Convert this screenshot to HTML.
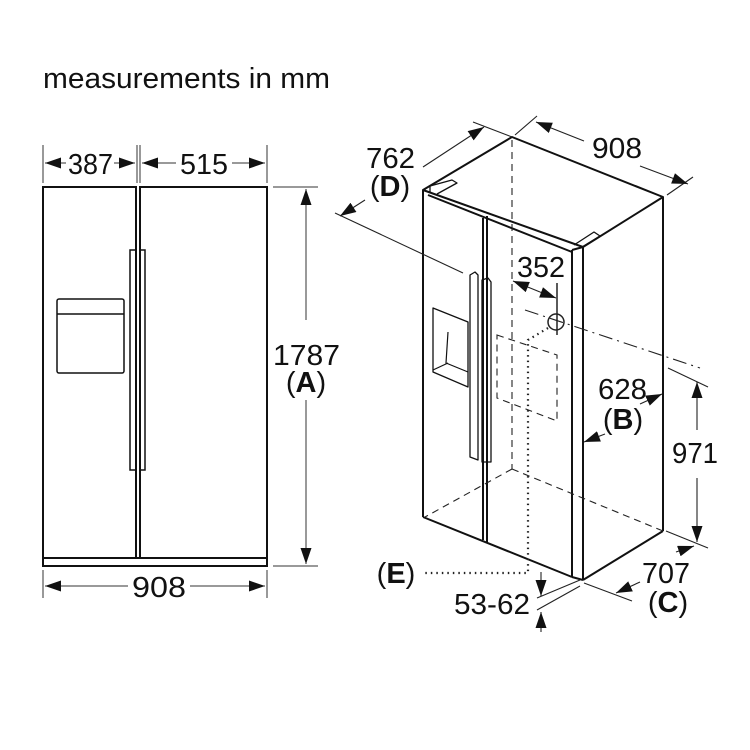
<!DOCTYPE html>
<html><head><meta charset="utf-8"><style>
html,body{margin:0;padding:0;background:#fff}
svg{display:block}
text{font-family:"Liberation Sans",sans-serif;fill:#111}
</style></head><body>
<svg width="750" height="750" viewBox="0 0 750 750" xmlns="http://www.w3.org/2000/svg">
<defs>
<marker id="a" viewBox="0 0 10 10" refX="10" refY="5" markerWidth="16" markerHeight="11" orient="auto-start-reverse" markerUnits="userSpaceOnUse" preserveAspectRatio="none"><path d="M0,0L10,5L0,10z" fill="#111"/></marker>
</defs>
<text x="43" y="88" font-size="29" textLength="287" lengthAdjust="spacingAndGlyphs">measurements in mm</text>

<g stroke="#111" fill="none" stroke-width="2">
<rect x="43" y="187" width="93" height="371"/>
<rect x="140" y="187" width="127" height="371"/>
<rect x="43" y="558" width="224" height="8"/>
<rect x="130" y="250" width="6" height="220" stroke-width="1.5"/>
<rect x="140" y="250" width="5" height="220" stroke-width="1.5"/>
<rect x="57" y="299" width="67" height="74" rx="2" stroke-width="1.5"/>
<line x1="57" y1="314" x2="124" y2="314" stroke-width="1.5"/>
</g>
<g stroke="#333" stroke-width="1" fill="none">
<line x1="43" y1="145" x2="43" y2="183"/><line x1="137" y1="145" x2="137" y2="183"/><line x1="140" y1="145" x2="140" y2="183"/><line x1="267" y1="145" x2="267" y2="183"/>
<line x1="45" y1="163" x2="66" y2="163" marker-start="url(#a)"/><line x1="114" y1="163" x2="135" y2="163" marker-end="url(#a)"/>
<line x1="142" y1="163" x2="176" y2="163" marker-start="url(#a)"/><line x1="232" y1="163" x2="265" y2="163" marker-end="url(#a)"/>
<line x1="273" y1="187" x2="318" y2="187"/><line x1="273" y1="566" x2="318" y2="566"/>
<line x1="306" y1="189" x2="306" y2="320" marker-start="url(#a)"/><line x1="306" y1="400" x2="306" y2="564" marker-end="url(#a)"/>
<line x1="43" y1="570" x2="43" y2="598"/><line x1="267" y1="570" x2="267" y2="598"/>
<line x1="45" y1="586" x2="128" y2="586" marker-start="url(#a)"/><line x1="190" y1="586" x2="265" y2="586" marker-end="url(#a)"/>
</g>
<text x="68" y="174" font-size="29" textLength="45" lengthAdjust="spacingAndGlyphs">387</text>
<text x="180" y="174" font-size="29" textLength="48" lengthAdjust="spacingAndGlyphs">515</text>
<text x="273" y="365" font-size="29" textLength="67" lengthAdjust="spacingAndGlyphs">1787</text>
<text x="306" y="392" font-size="29" text-anchor="middle">(<tspan font-weight="bold">A</tspan>)</text>
<text x="132" y="597" font-size="29" textLength="54" lengthAdjust="spacingAndGlyphs">908</text>

<g stroke="#111" fill="none" stroke-width="2" stroke-linejoin="round">
<polygon points="423,190 512,137 663,197 583,247"/>
<line x1="423" y1="190" x2="423" y2="517"/>
<line x1="423" y1="517" x2="572" y2="577"/>
<line x1="572" y1="250" x2="572" y2="577"/>
<line x1="583" y1="247" x2="583" y2="580"/>
<line x1="663" y1="197" x2="663" y2="531"/>
<line x1="583" y1="580" x2="663" y2="531"/>
<line x1="572" y1="577" x2="583" y2="580"/>
<line x1="428" y1="195" x2="572" y2="252"/>
<line x1="572" y1="250" x2="583" y2="247"/>
<line x1="483" y1="218" x2="483" y2="540"/><line x1="487" y1="216" x2="487" y2="542"/>
<polyline points="430,193 430,186 452,180 457,183 437,194" stroke-width="1.3"/>
<polyline points="574,245 594,232 600,236 582,247" stroke-width="1.3"/>
<polygon points="470,275 475,272 478,275 478,460 470,457" stroke-width="1.3"/>
<polygon points="482,280 488,278 491,282 491,462 482,462" stroke-width="1.3"/>
<polygon points="433,308 468,322 468,387 433,372" stroke-width="1.3"/>
<polyline points="448,332 446,363 468,372" stroke-width="1.2"/>
<line x1="433" y1="370" x2="448" y2="363" stroke-width="1.2"/>
</g>
<g stroke="#222" fill="none" stroke-width="1.1">
<g stroke-dasharray="7,5">
<line x1="512" y1="140" x2="512" y2="469"/>
<line x1="512" y1="469" x2="425" y2="517"/>
<line x1="512" y1="469" x2="663" y2="531"/>
<polygon points="497,335 557,355 557,421 497,398"/>
</g>
<line x1="525" y1="310" x2="700" y2="368" stroke-dasharray="14,5,2,5"/>
<circle cx="556" cy="322" r="8" stroke-width="1.5"/>
<line x1="557" y1="283" x2="557" y2="335" stroke-width="1.5"/>
<polyline points="548,328 528,340 528,573 425,573" stroke-dasharray="1.5,4" stroke-width="2.2"/>
<line x1="473" y1="122" x2="512" y2="137"/>
<line x1="335" y1="213" x2="463" y2="273"/>
<line x1="423" y1="167" x2="484" y2="127" marker-end="url(#a)"/>
<line x1="365" y1="200" x2="340" y2="216" marker-end="url(#a)"/>
<line x1="515" y1="135" x2="537" y2="116"/>
<line x1="667" y1="195" x2="693" y2="177"/>
<line x1="584" y1="141" x2="536" y2="122" marker-end="url(#a)"/>
<line x1="640" y1="166" x2="688" y2="184" marker-end="url(#a)"/>
<line x1="540" y1="292" x2="513" y2="281" marker-end="url(#a)"/>
<line x1="540" y1="292" x2="556" y2="298" marker-end="url(#a)"/>
<line x1="640" y1="404" x2="662" y2="394" marker-end="url(#a)"/>
<line x1="605" y1="434" x2="584" y2="442" marker-end="url(#a)"/>
<line x1="668" y1="368" x2="708" y2="387"/>
<line x1="666" y1="531" x2="708" y2="548"/>
<line x1="697" y1="430" x2="697" y2="382" marker-end="url(#a)"/>
<line x1="697" y1="478" x2="697" y2="542" marker-end="url(#a)"/>
<line x1="584" y1="583" x2="632" y2="601"/>
<line x1="676" y1="552" x2="694" y2="546" marker-end="url(#a)"/>
<line x1="640" y1="582" x2="616" y2="593" marker-end="url(#a)"/>
<line x1="537" y1="598" x2="580" y2="580"/>
<line x1="537" y1="610" x2="580" y2="586"/>
<line x1="541" y1="572" x2="541" y2="596" marker-end="url(#a)"/>
<line x1="541" y1="632" x2="541" y2="612" marker-end="url(#a)"/>
</g>
<text x="366" y="168" font-size="29" textLength="49" lengthAdjust="spacingAndGlyphs">762</text>
<text x="390" y="196" font-size="29" text-anchor="middle">(<tspan font-weight="bold">D</tspan>)</text>
<text x="592" y="158" font-size="29" textLength="50" lengthAdjust="spacingAndGlyphs">908</text>
<text x="517" y="277" font-size="29" textLength="48" lengthAdjust="spacingAndGlyphs">352</text>
<text x="598" y="399" font-size="29" textLength="49" lengthAdjust="spacingAndGlyphs">628</text>
<text x="623" y="429" font-size="29" text-anchor="middle">(<tspan font-weight="bold">B</tspan>)</text>
<text x="672" y="463" font-size="29" textLength="46" lengthAdjust="spacingAndGlyphs">971</text>
<text x="642" y="583" font-size="29" textLength="48" lengthAdjust="spacingAndGlyphs">707</text>
<text x="668" y="612" font-size="29" text-anchor="middle">(<tspan font-weight="bold">C</tspan>)</text>
<text x="396" y="583" font-size="29" text-anchor="middle">(<tspan font-weight="bold">E</tspan>)</text>
<text x="454" y="614" font-size="29" textLength="76" lengthAdjust="spacingAndGlyphs">53-62</text>
</svg>
</body></html>
